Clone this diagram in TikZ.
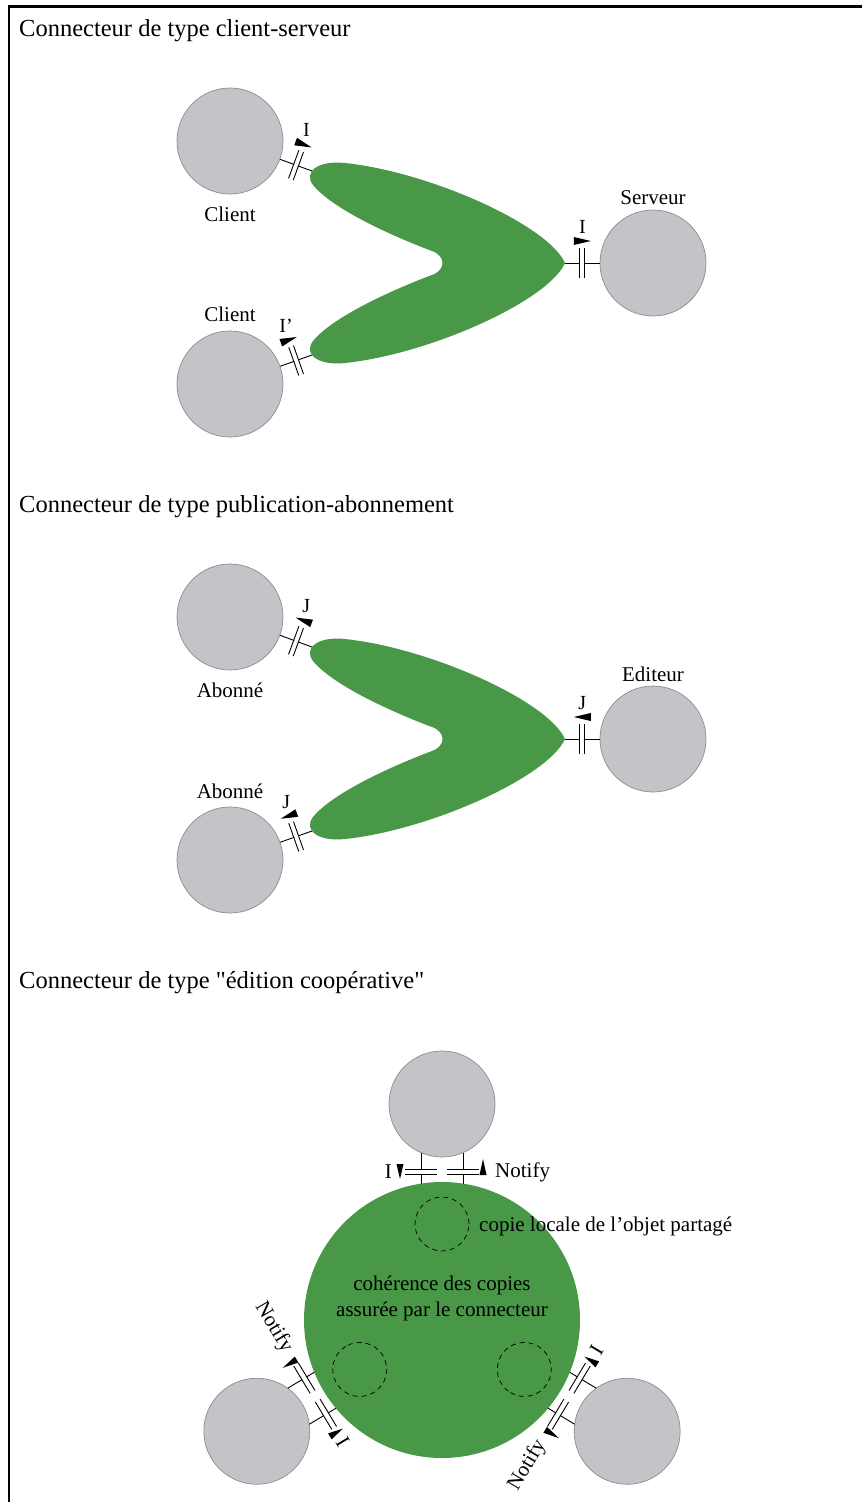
\documentclass[tikz,border=0pt]{standalone}
\usepackage{fontspec}
\setmainfont{Liberation Serif}[Ligatures=TeXOff]
\usetikzlibrary{decorations.markings}

\definecolor{compgray}{RGB}{196,196,200}
\definecolor{compedge}{RGB}{140,140,144}
\definecolor{conngreen}{RGB}{72,152,72}

\tikzset{
  comp/.style={circle, draw=compedge, fill=compgray, line width=0.7pt,
               minimum size=106pt, inner sep=0pt},
  cname/.style={font=\fontsize{21}{25}\selectfont, inner sep=0pt},
  sectitle/.style={font=\fontsize{24.5}{29}\selectfont, anchor=base west, inner sep=0pt},
  lbl/.style={font=\fontsize{20}{24}\selectfont, inner sep=0pt, anchor=base},
  wire/.style={line width=0.9pt},
  plates/.style={postaction={decorate, decoration={markings, mark=at position 0.5 with {
      \fill[white] (-1.9pt,-1pt) rectangle (1.9pt,1pt);
      \draw[line width=0.9pt] (-2.5pt,-15pt) -- (-2.5pt,15pt) (2.5pt,-15pt) -- (2.5pt,15pt);}}}},
  callfwd/.style={postaction={decorate, decoration={markings, mark=at position 0.5 with {
      \fill (8.5pt,22pt) -- (-8.5pt,26pt) -- (-8.5pt,18pt) -- cycle;
      \node[lbl] at (0pt,30pt) {#1};}}}},
  callbwd/.style={postaction={decorate, decoration={markings, mark=at position 0.5 with {
      \fill (-8.5pt,22pt) -- (8.5pt,26pt) -- (8.5pt,18pt) -- cycle;
      \node[lbl] at (0pt,30pt) {#1};}}}},
  copyzone/.style={draw, dash pattern=on 5pt off 4pt, line width=0.7pt},
}

% two-armed connector body (arm tips at (312,171), (312,355), joint at (565,263))
\newcommand\connshape{%
  \fill[conngreen] (565,263) .. controls (548,225) and (430,172) .. (345,163)
    .. controls (318,160) and (303,172) .. (313,185)
    .. controls (335,212) and (405,241) .. (432,251)
    .. controls (446,256) and (446,270) .. (432,275)
    .. controls (405,285) and (335,314) .. (313,341)
    .. controls (303,354) and (318,366) .. (345,363)
    .. controls (430,354) and (548,301) .. (565,263) -- cycle;}

% one participant of the cooperative editing connector, rotated about the hub
\newcommand\coopunit[5]{%
  \begin{scope}[shift={(442,1320)}, rotate=#1]
    \node[comp] (#5) at (0,-216) {};
    \coordinate (#5-ia) at (-21,-167.3);
    \coordinate (#5-ib) at (-21,-136.4);
    \coordinate (#5-na) at (21,-167.3);
    \coordinate (#5-nb) at (21,-136.4);
    \draw[wire] (#5-ia) -- (#5-ib);
    \draw[wire] (#5-na) -- (#5-nb);
    \fill[white] (-22,-150.3) rectangle (-20,-145.7);
    \fill[white] (20,-150.3) rectangle (22,-145.7);
    \draw[line width=0.9pt] (-37,-150.8) -- (-5,-150.8) (-37,-145.2) -- (-5,-145.2)
                            (5,-150.8) -- (37,-150.8) (5,-145.2) -- (37,-145.2);
    \fill (-42,-141) -- (-45.5,-156) -- (-38.5,-156) -- cycle;
    \fill (41,-161) -- (37.5,-145) -- (44.5,-145) -- cycle;
    \node[cname, anchor=#3, rotate=#2] (#5-il) at (-50,-148) {I};
    \node[cname, anchor=#4, rotate=#2] (#5-nl) at (53,-148) {Notify};
    \draw[copyzone] (0,-96) circle[radius=27pt];
  \end{scope}}

\begin{document}
\begin{tikzpicture}[x=1pt, y=-1pt]
\useasboundingbox (0,0) rectangle (862,1502);

% frame
\draw[line width=2.7pt] (9,1502) -- (9,6.7) -- (862,6.7);

% ---------- client / server ----------
\node[sectitle] (t1) at (19,36.5) {Connecteur de type client-serveur};
\connshape
\coordinate (tA) at (312,171);
\coordinate (tB) at (312,355);
\coordinate (tC) at (565,263);
\node[comp] (cl1) at (230,141) {};
\node[comp] (cl2) at (230,384) {};
\node[comp] (srv) at (653,263) {};
\node[cname] (lcl1) at (230,214) {Client};
\node[cname] (lcl2) at (230,314) {Client};
\node[cname] (lsrv) at (653,198) {Serveur};
\draw[wire, plates, callfwd=I] (cl1) -- (tA);
\draw[wire, plates, callfwd=I’] (cl2) -- (tB);
\draw[wire, plates, callfwd=I] (tC) -- (srv);

% ---------- publish / subscribe ----------
\node[sectitle] (t2) at (19,512.5) {Connecteur de type publication-abonnement};
\begin{scope}[shift={(0,476)}]
  \connshape
  \coordinate (uA) at (312,171);
  \coordinate (uB) at (312,355);
  \coordinate (uC) at (565,263);
  \node[comp] (ab1) at (230,141) {};
  \node[comp] (ab2) at (230,384) {};
  \node[comp] (edi) at (653,263) {};
  \node[cname] (lab1) at (230,214) {Abonné};
  \node[cname] (lab2) at (230,315) {Abonné};
  \node[cname] (ledi) at (653,198) {Editeur};
  \draw[wire, plates, callbwd=J] (ab1) -- (uA);
  \draw[wire, plates, callbwd=J] (ab2) -- (uB);
  \draw[wire, plates, callbwd=J] (uC) -- (edi);
\end{scope}

% ---------- cooperative editing ----------
\node[sectitle] (t3) at (19,988.5) {Connecteur de type "édition coopérative"};
\node[circle, fill=conngreen, minimum size=276pt, inner sep=0pt] (hub) at (442,1320) {};
\coopunit{0}{0}{east}{west}{top}
\coopunit{121}{-59}{west}{east}{left}
\coopunit{-121}{59}{west}{east}{right}
\node[cname, anchor=base west] (copy) at (479,1231) {copie locale de l’objet partagé};
\node[cname, anchor=base] (coh1) at (442,1290) {cohérence des copies};
\node[cname, anchor=base] (coh2) at (442,1316) {assurée par le connecteur};
\end{tikzpicture}
\end{document}
